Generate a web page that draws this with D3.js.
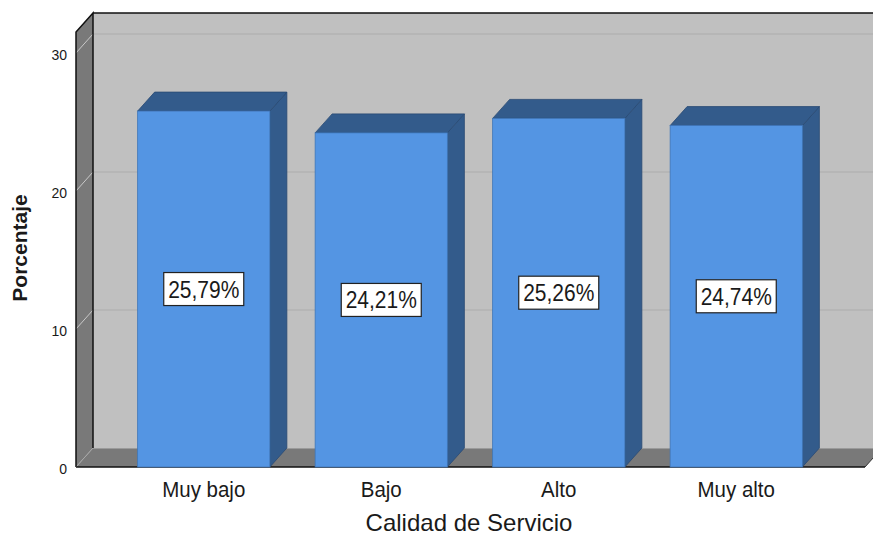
<!DOCTYPE html>
<html>
<head>
<meta charset="utf-8">
<script src="https://cdn.jsdelivr.net/npm/d3@7"></script>
<style>
  html, body { margin: 0; padding: 0; background: #fff; }
  svg { display: block; }
  text { font-family: "Liberation Sans", Arial, sans-serif; fill: #1a1a1a; }
</style>
</head>
<body>
<svg id="chart" width="873" height="537"></svg>
<script>
// ---- data ----
const categories = ["Muy bajo", "Bajo", "Alto", "Muy alto"];
const values = [25.79, 24.21, 25.26, 24.74];
const valueLabels = ["25,79%", "24,21%", "25,26%", "24,74%"];
const yTicks = [0, 10, 20, 30];
const xTitle = "Calidad de Servicio";
const yTitle = "Porcentaje";

// ---- layout ----
const W = 873, H = 537;
const pLeft = 76, pRight = 865, pBottom = 467, pTop = 32;
const dx = 17, dy = -19;           // 3D depth offset
const yMax = 31.52;

const svg = d3.select("#chart");

const x = d3.scaleBand().domain(categories).range([115, 825])
  .paddingInner(0.255).paddingOuter(0.1275);
const y = d3.scaleLinear().domain([0, yMax]).range([pBottom, pTop]);

const pts = p => p.map(d => d.join(",")).join(" ");

// back wall
svg.append("rect")
  .attr("x", pLeft + dx).attr("y", pTop + dy)
  .attr("width", pRight - pLeft + 20).attr("height", pBottom - pTop)
  .attr("fill", "#c0c0c0");

// back wall gridlines
svg.append("g").selectAll("line").data(yTicks.filter(t => t > 0)).join("line")
  .attr("x1", pLeft + dx).attr("x2", pRight + dx + 20)
  .attr("y1", d => y(d) + dy).attr("y2", d => y(d) + dy)
  .attr("stroke", "#acacac").attr("stroke-width", 1.2);

// back wall top border
svg.append("line")
  .attr("x1", pLeft + dx).attr("x2", W + 5)
  .attr("y1", pTop + dy).attr("y2", pTop + dy)
  .attr("stroke", "#111").attr("stroke-width", 1.5);

// floor
svg.append("polygon")
  .attr("points", pts([[pLeft, pBottom], [pRight, pBottom], [pRight + dx, pBottom + dy], [pLeft + dx, pBottom + dy]]))
  .attr("fill", "#797979");
svg.append("line")
  .attr("x1", pLeft + dx).attr("x2", pRight + dx + 20)
  .attr("y1", pBottom + dy + 0.5).attr("y2", pBottom + dy + 0.5)
  .attr("stroke", "#9a9a9a").attr("stroke-width", 1);
svg.append("line")
  .attr("x1", pLeft).attr("x2", pRight)
  .attr("y1", pBottom).attr("y2", pBottom)
  .attr("stroke", "#111").attr("stroke-width", 1.5);
svg.append("line")
  .attr("x1", pRight).attr("x2", pRight + dx)
  .attr("y1", pBottom).attr("y2", pBottom + dy)
  .attr("stroke", "#333").attr("stroke-width", 1);

// left wall
svg.append("polygon")
  .attr("points", pts([[pLeft, pBottom], [pLeft, pTop], [pLeft + dx, pTop + dy], [pLeft + dx, pBottom + dy]]))
  .attr("fill", "#797979");
svg.append("g").selectAll("line").data(yTicks).join("line")
  .attr("x1", pLeft).attr("x2", pLeft + dx)
  .attr("y1", d => y(d)).attr("y2", d => y(d) + dy)
  .attr("stroke", d => d === 0 ? "#a8a8a8" : "#c9c9c9").attr("stroke-width", 1);
svg.append("polyline")
  .attr("points", pts([[pLeft, pBottom], [pLeft, pTop], [pLeft + dx, pTop + dy], [pLeft + dx, pBottom + dy]]))
  .attr("fill", "none").attr("stroke", "#111").attr("stroke-width", 1.5);

// y tick labels
svg.append("g").selectAll("text").data(yTicks).join("text")
  .attr("x", 67).attr("y", d => y(d) + 1.5)
  .attr("dy", "0.36em")
  .attr("text-anchor", "end")
  .style("font-size", "14px")
  .text(d => d);

// bars
const bars = svg.append("g").selectAll("g").data(categories).join("g");
bars.each(function(c, i) {
  const g = d3.select(this);
  const x0 = x(c), x1 = x(c) + x.bandwidth(), yv = y(values[i]);
  // side face
  g.append("polygon")
    .attr("points", pts([[x1, yv], [x1 + dx, yv + dy], [x1 + dx, pBottom + dy], [x1, pBottom]]))
    .attr("fill", "#335b8b").attr("stroke", "#2a4a73").attr("stroke-width", 0.8);
  // top face
  g.append("polygon")
    .attr("points", pts([[x0, yv], [x0 + dx, yv + dy], [x1 + dx, yv + dy], [x1, yv]]))
    .attr("fill", "#335b8b").attr("stroke", "#2a4a73").attr("stroke-width", 0.8);
  // front face
  g.append("rect")
    .attr("x", x0).attr("y", yv)
    .attr("width", x1 - x0).attr("height", pBottom - yv)
    .attr("fill", "#5495e3").attr("stroke", "#3f76b8").attr("stroke-width", 0.8);
});

// value labels
const lbl = svg.append("g").selectAll("g").data(categories).join("g")
  .attr("transform", (c, i) => `translate(${x(c) + x.bandwidth() / 2},${y(values[i] / 2)})`);
lbl.append("rect")
  .attr("x", -40).attr("y", -16.5).attr("width", 80).attr("height", 33)
  .attr("fill", "#fff").attr("stroke", "#222").attr("stroke-width", 1.2);
lbl.append("text")
  .attr("text-anchor", "middle").attr("dy", "0.36em")
  .attr("transform", "scale(1,1.12)")
  .style("font-size", "21px")
  .text((c, i) => valueLabels[i]);

// x category labels
svg.append("g").selectAll("text").data(categories).join("text")
  .attr("transform", c => `translate(${x(c) + x.bandwidth() / 2},497) scale(1,1.1)`)
  .attr("text-anchor", "middle")
  .style("font-size", "20.5px")
  .text(c => c);

// axis titles
svg.append("text")
  .attr("transform", `translate(469,531)`)
  .attr("text-anchor", "middle")
  .style("font-size", "24px")
  .text(xTitle);

svg.append("text")
  .attr("transform", "translate(27,248) rotate(-90)")
  .attr("text-anchor", "middle")
  .style("font-size", "21px").style("font-weight", "bold")
  .text(yTitle);
</script>
</body>
</html>
